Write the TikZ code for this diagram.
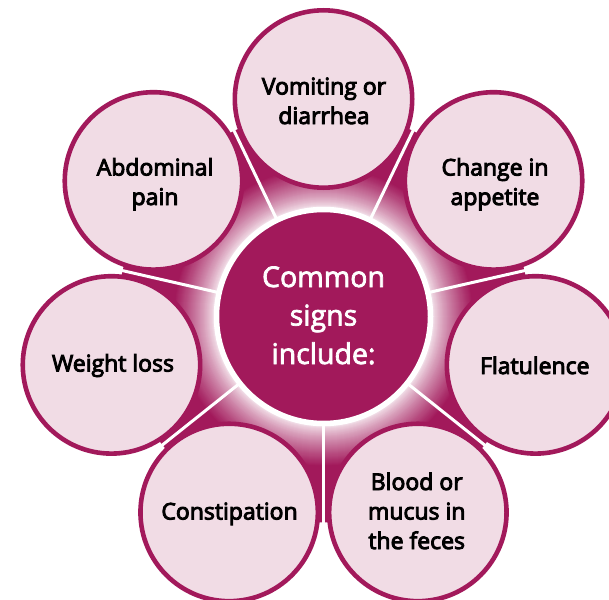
\documentclass[tikz,border=0pt]{standalone}
\usepackage{fontspec}
\newfontfamily\lblfont{Open Sans}[FakeBold=4]
\newfontfamily\ctrfont{Open Sans}[FakeBold=2.5]
\usetikzlibrary{calc}
\definecolor{mag}{HTML}{A2195B}
\definecolor{petalfill}{HTML}{F1DCE5}
\tikzset{
  petal/.style={circle, fill=petalfill, draw=mag, line width=4.6pt, minimum size=177.4pt, inner sep=0pt},
  hub/.style={circle, fill=mag, draw=white, line width=5.5pt, minimum size=214pt, inner sep=0pt},
  spoke/.style={draw=white, line width=3pt},
  lbl/.style={font=\lblfont\fontsize{23}{29.5}\selectfont, align=center, text=black, anchor=base, inner sep=0pt},
  ctr/.style={font=\ctrfont\fontsize{28.5}{38.5}\selectfont, align=center, text=white, anchor=base, inner sep=0pt}
}
\begin{document}
\begin{tikzpicture}[x=1pt,y=-1pt]
\useasboundingbox (0,0) rectangle (609,599);
\clip (0,0) rectangle (609,599);
\fill[white] (0,0) rectangle (609,599);
\coordinate (C) at (323.5,316.5);
% glow disk
\fill[mag] (C) circle (206);
\foreach \r in {150,149,...,110} {
  \pgfmathtruncatemacro\p{12+88*((\r-110)/40)^0.8}
  \fill[mag!\p!white] (C) circle (\r);
}
% spokes
\foreach \a [count=\i] in {115.71,167.14,218.57,270,321.43,372.86,424.29} {
  \coordinate (s\i) at ($(C)+(-\a:214)$);
  \draw[spoke] (C) -- (s\i);
}
% outer circles
\node[petal] (vom) at ($(C)+(-90:217.5)$) {};
\node[petal] (chg) at ($(C)+(-38.57:217.5)$) {};
\node[petal] (fla) at ($(C)+(12.86:217.5)$) {};
\node[petal] (blo) at ($(C)+(64.29:217.5)$) {};
\node[petal] (con) at ($(C)+(115.71:217.5)$) {};
\node[petal] (wgt) at ($(C)+(167.14:217.5)$) {};
\node[petal] (abd) at ($(C)+(218.57:217.5)$) {};
% hub
\node[hub] (hub) at (C) {};
% labels (anchored at the baseline of the last line)
\node[lbl] (tvom) at (324,124) {Vomiting or\\diarrhea};
\node[lbl] (tabd) at (155,205) {Abdominal\\pain};
\node[lbl] (tchg) at (495,205) {Change in\\appetite};
\node[lbl] (twgt) at (113,371.5) {Weight loss};
\node[lbl] (tfla) at (534.8,374) {Flatulence};
\node[lbl] (tcon) at (229.5,519.5) {Constipation};
\node[lbl] (tblo) at (416.7,549) {Blood or\\mucus in\\the feces};
\node[ctr] (thub) at (323.5,364) {Common\\signs\\include:};
\end{tikzpicture}
\end{document}
